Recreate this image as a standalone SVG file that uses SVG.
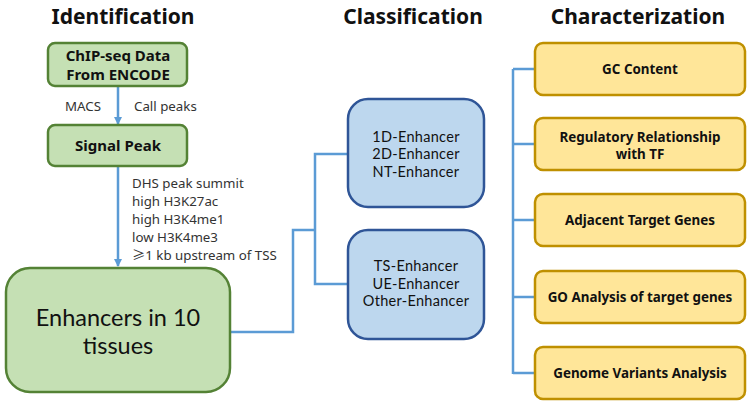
<svg xmlns="http://www.w3.org/2000/svg" width="749" height="406" viewBox="0 0 749 406">
<defs>
<marker id="arr" markerWidth="8" markerHeight="8" refX="7" refY="4" orient="auto" markerUnits="userSpaceOnUse">
<path d="M0,0 L8,4 L0,8 Z" fill="#5b9bd5"/>
</marker>
</defs>
<style>
.title{font-family:"Noto Sans","Open Sans",sans-serif;font-weight:bold;font-size:21px;fill:#111;text-anchor:middle}
.green{fill:#c5e0b4;stroke:#548235;stroke-width:2.5}
.blue{fill:#bdd7ee;stroke:#2f5597;stroke-width:2.5}
.gold{fill:#ffe699;stroke:#bf9000;stroke-width:2.5}
.bt{font-family:"Noto Sans","Open Sans",sans-serif;font-weight:bold;font-size:15px;fill:#111;text-anchor:middle}
.gt{font-family:"Noto Sans","Open Sans",sans-serif;font-weight:bold;font-size:13.4px;fill:#111;text-anchor:middle}
.ct{font-family:Lato,"Liberation Sans",sans-serif;font-size:14.5px;fill:#111;text-anchor:middle;letter-spacing:0.3px}
.et{font-family:Lato,"Liberation Sans",sans-serif;font-size:23.5px;fill:#111;text-anchor:middle}
.lab{font-family:"Noto Sans","Open Sans",sans-serif;font-size:13.3px;fill:#333}
.con{fill:none;stroke:#5b9bd5;stroke-width:2.5}
</style>
<rect width="749" height="406" fill="#fff"/>
<text class="title" x="123" y="24">Identification</text>
<text class="title" x="413" y="24">Classification</text>
<text class="title" x="638" y="24">Characterization</text>

<g id="connectors">
<line class="con" x1="118" y1="87" x2="118" y2="124" marker-end="url(#arr)"/>
<line class="con" x1="118" y1="167" x2="118" y2="266" marker-end="url(#arr)"/>
<polyline class="con" points="231,332 293,332 293,230 315,230"/>
<polyline class="con" points="348,154 315,154 315,284 348,284"/>
<line class="con" x1="513" y1="69" x2="513" y2="374"/>
<line class="con" x1="513" y1="69" x2="535" y2="69"/>
<line class="con" x1="513" y1="144" x2="535" y2="144"/>
<line class="con" x1="513" y1="220" x2="535" y2="220"/>
<line class="con" x1="513" y1="297" x2="535" y2="297"/>
<line class="con" x1="513" y1="373" x2="535" y2="373"/>
</g>

<g id="labels">
<text class="lab" x="65" y="111">MACS</text>
<text class="lab" x="134" y="111">Call peaks</text>
<text class="lab" x="132" y="188">DHS peak summit</text>
<text class="lab" x="132" y="206">high H3K27ac</text>
<text class="lab" x="132" y="224">high H3K4me1</text>
<text class="lab" x="132" y="242">low H3K4me3</text>
<text class="lab" x="132" y="260"><tspan font-family="'Noto Sans CJK SC',sans-serif">≥</tspan>1 kb upstream of TSS</text>
</g>

<g id="chipseq">
<rect class="green" x="48" y="43" width="139" height="43" rx="7"/>
<text class="bt" x="118" y="61">ChIP-seq Data</text>
<text class="bt" x="118" y="80">From ENCODE</text>
</g>
<g id="signalpeak">
<rect class="green" x="48" y="125" width="139" height="41" rx="7"/>
<text class="bt" x="118" y="151">Signal Peak</text>
</g>
<g id="enhancers">
<rect class="green" x="6" y="268" width="224" height="124" rx="24"/>
<text class="et" x="118" y="326">Enhancers in 10</text>
<text class="et" x="118" y="354">tissues</text>
</g>

<g id="class1">
<rect class="blue" x="348" y="99" width="136" height="108" rx="20"/>
<text class="ct" x="416" y="142">1D-Enhancer</text>
<text class="ct" x="416" y="159">2D-Enhancer</text>
<text class="ct" x="416" y="177">NT-Enhancer</text>
</g>
<g id="class2">
<rect class="blue" x="348" y="230" width="136" height="109" rx="20"/>
<text class="ct" x="416" y="271">TS-Enhancer</text>
<text class="ct" x="416" y="289">UE-Enhancer</text>
<text class="ct" x="416" y="306">Other-Enhancer</text>
</g>

<g id="gc">
<rect class="gold" x="535" y="43" width="210" height="52" rx="8"/>
<text class="gt" x="640" y="74">GC Content</text>
</g>
<g id="regulatory">
<rect class="gold" x="535" y="118" width="210" height="52" rx="8"/>
<text class="gt" x="640" y="142">Regulatory Relationship</text>
<text class="gt" x="640" y="159">with TF</text>
</g>
<g id="adjacent">
<rect class="gold" x="535" y="194" width="210" height="52" rx="8"/>
<text class="gt" x="640" y="225">Adjacent Target Genes</text>
</g>
<g id="goanalysis">
<rect class="gold" x="535" y="271" width="210" height="52" rx="8"/>
<text class="gt" x="640" y="302">GO Analysis of target genes</text>
</g>
<g id="variants">
<rect class="gold" x="535" y="347" width="210" height="52" rx="8"/>
<text class="gt" x="640" y="378">Genome Variants Analysis</text>
</g>
</svg>
